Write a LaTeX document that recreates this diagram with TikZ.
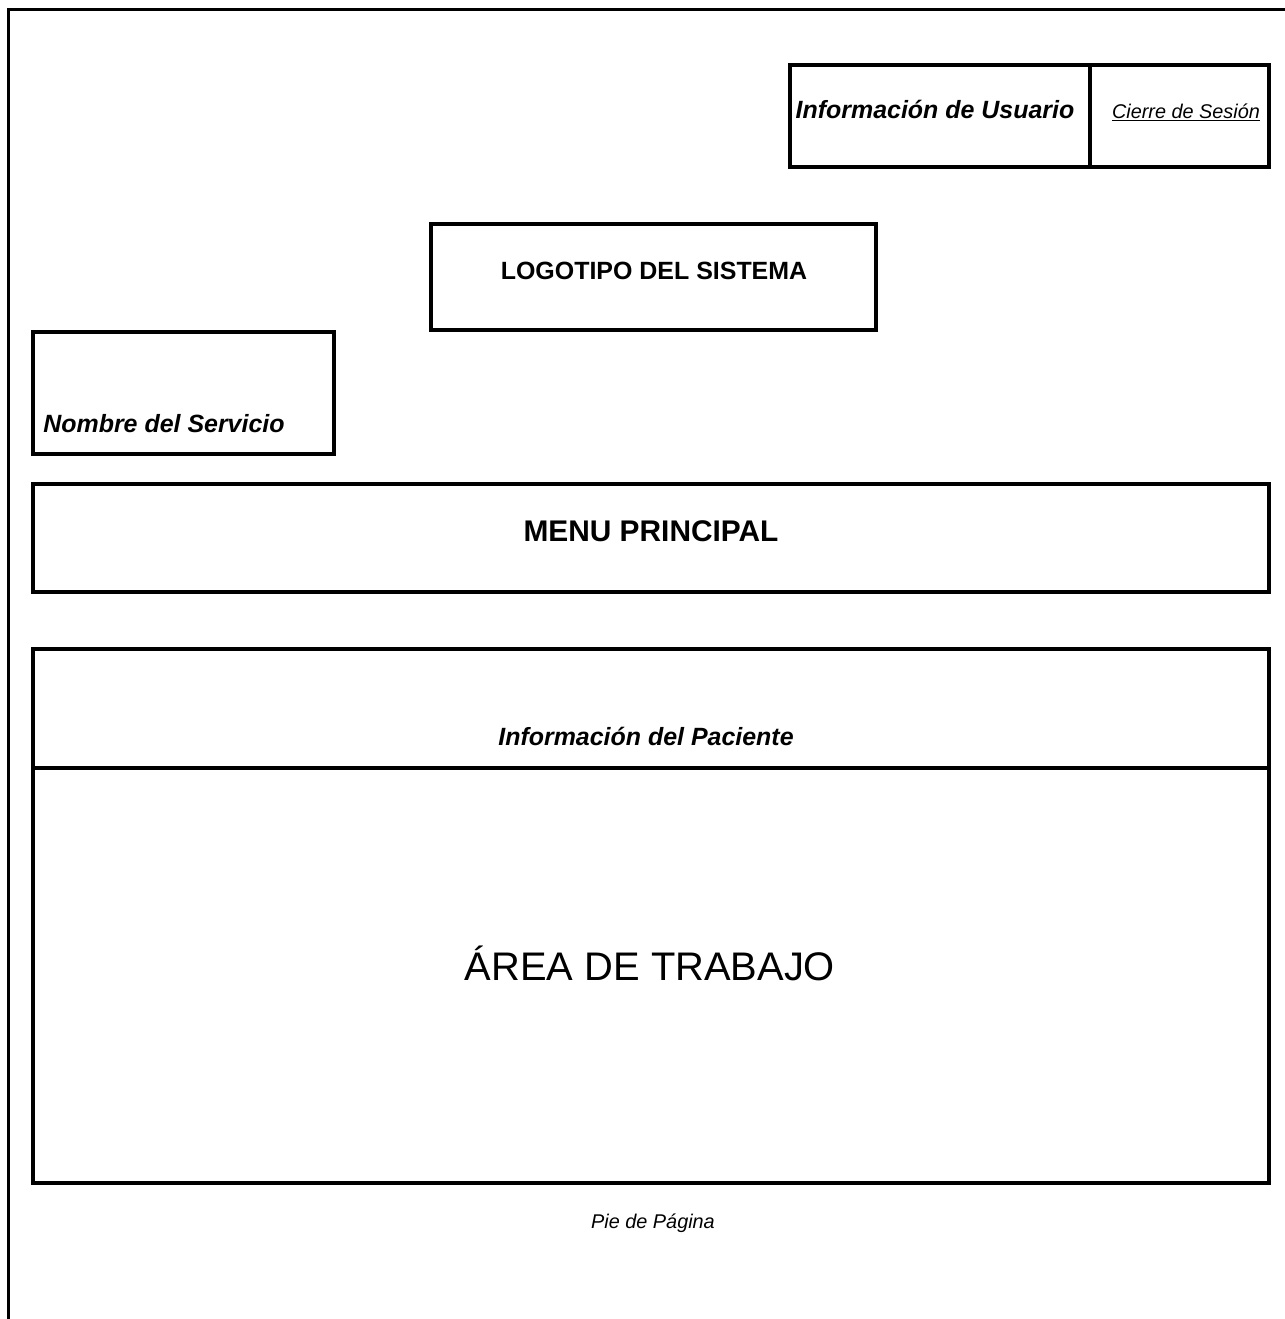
\documentclass[tikz,border=0pt]{standalone}
\usepackage{fontspec}
\setmainfont{Liberation Sans}

\begin{document}
\begin{tikzpicture}[
  x=0.02cm, y=-0.02cm,
  every node/.style={inner sep=0pt, anchor=base},
  frame/.style={draw, line width=2.27pt},
  page/.style={draw, line width=1.7pt},
  bold/.style={font=\fontsize{14.2}{17}\selectfont\bfseries},
  boldit/.style={font=\fontsize{14.2}{17}\selectfont\bfseries\itshape},
  small/.style={font=\fontsize{11.3}{13}\selectfont\itshape},
  big/.style={font=\fontsize{17}{20}\selectfont\bfseries},
  huge/.style={font=\fontsize{22.7}{27}\selectfont}
]
  \useasboundingbox (0,0) rectangle (1285,1319);
  \clip (0,0) rectangle (1285,1319);
  % page border (only top and left edges visible)
  \draw[page] (8.5,1330) -- (8.5,9.5) -- (1300,9.5);

  % header
  \draw[frame] (790,65) rectangle (1269,167);
  \draw[frame] (1090,65) -- (1090,167);
  \node[boldit] (usuario) at (935,118) {Información de Usuario};
  \node[small] (cierre) at (1186,118) {\underline{Cierre de Sesión}};

  \draw[frame] (431,224) rectangle (876,330);
  \node[bold] (logo) at (654,279) {LOGOTIPO DEL SISTEMA};

  \draw[frame] (33,332) rectangle (334,454);
  \node[boldit, anchor=base west] (servicio) at (43,432) {Nombre del Servicio};

  % menu
  \draw[frame] (33,484) rectangle (1269,592);
  \node[big] (menu) at (651,541) {MENU PRINCIPAL};

  % work area
  \draw[frame] (33,649) rectangle (1269,1183);
  \draw[frame] (33,768) -- (1269,768);
  \node[boldit] (paciente) at (646,745) {Información del Paciente};
  \node[huge] (trabajo) at (650,980) {ÁREA DE TRABAJO};

  % footer
  \node[small] (pie) at (653,1228) {Pie de Página};
\end{tikzpicture}
\end{document}
